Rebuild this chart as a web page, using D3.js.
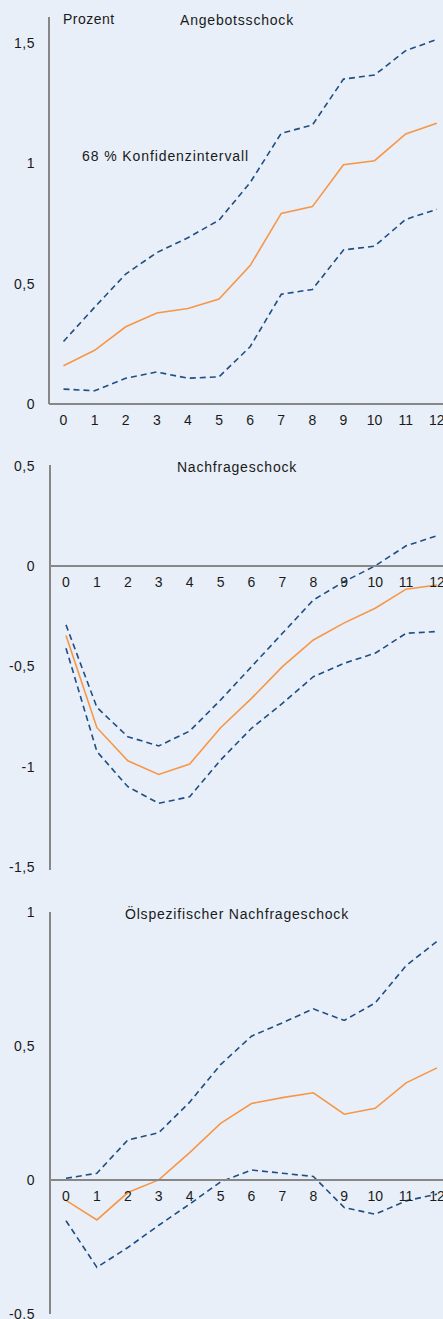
<!DOCTYPE html>
<html>
<head>
<meta charset="utf-8">
<script src="https://cdn.jsdelivr.net/npm/d3@7"></script>
<style>
  html, body { margin: 0; padding: 0; background: #e8eff8; }
  svg { display: block; }
  text { font-family: "Liberation Sans", Arial, sans-serif; fill: #1a1a1a; }
</style>
</head>
<body>
<div id="chartDiv"></div>
<script>
// horizon in quarters
var periods = [0, 1, 2, 3, 4, 5, 6, 7, 8, 9, 10, 11, 12];

// Angebotsschock
var supplyMid   = [0.159, 0.223, 0.321, 0.378, 0.397, 0.436, 0.575, 0.792, 0.820, 0.994, 1.011, 1.122, 1.167];
var supplyUpper = [0.260, 0.402, 0.540, 0.629, 0.691, 0.764, 0.920, 1.125, 1.159, 1.350, 1.367, 1.468, 1.515];
var supplyLower = [0.062, 0.055, 0.107, 0.133, 0.107, 0.113, 0.238, 0.456, 0.476, 0.640, 0.656, 0.767, 0.809];

// Nachfrageschock
var demandMid   = [-0.347, -0.806, -0.971, -1.039, -0.987, -0.806, -0.660, -0.502, -0.369, -0.284, -0.211, -0.116, -0.095];
var demandUpper = [-0.294, -0.705, -0.851, -0.897, -0.823, -0.668, -0.502, -0.336, -0.170, -0.078, 0.000, 0.100, 0.150];
var demandLower = [-0.410, -0.925, -1.100, -1.183, -1.150, -0.967, -0.809, -0.685, -0.552, -0.485, -0.435, -0.336, -0.327];

// Ölspezifischer Nachfrageschock
var oilMid   = [-0.076, -0.149, -0.047, 0.000, 0.102, 0.211, 0.285, 0.307, 0.325, 0.245, 0.267, 0.362, 0.418];
var oilUpper = [0.006, 0.025, 0.149, 0.176, 0.290, 0.430, 0.536, 0.586, 0.638, 0.595, 0.660, 0.799, 0.890];
var oilLower = [-0.152, -0.326, -0.252, -0.169, -0.090, -0.007, 0.037, 0.025, 0.013, -0.103, -0.128, -0.078, -0.053];

var yTicks1 = [0, 0.5, 1, 1.5];
var yTicks2 = [-1.5, -1, -0.5, 0, 0.5];
var yTicks3 = [-0.5, 0, 0.5, 1];

var svgWidth = 443;
var svgHeight = 1319;

var svg = d3.select('#chartDiv')
            .append('svg')
            .attr('width', svgWidth)
            .attr('height', svgHeight);

var fmt = function(v) { return String(v).replace('.', ','); };

function buildPanel(opts) {
    var x = d3.scaleLinear().domain([0, 12]).range([opts.x0, opts.x12]);
    var y = d3.scaleLinear().domain(opts.domain).range(opts.range);
    var g = svg.append('g');

    // y tick labels (no tick marks)
    g.selectAll('.ylab')
     .data(opts.yTicks)
     .enter()
     .append('text')
     .attr('x', 35)
     .attr('y', function(d) { return y(d) + 5; })
     .attr('text-anchor', 'end')
     .style('font-size', '14px')
     .style('letter-spacing', '0.5px')
     .text(fmt);

    // lines
    var line = d3.line()
                 .x(function(d, i) { return x(periods[i]); })
                 .y(function(d) { return y(d); });

    [opts.upper, opts.lower].forEach(function(s) {
        g.append('path')
         .attr('d', line(s))
         .attr('fill', 'none')
         .attr('stroke', '#1f4e85')
         .attr('stroke-width', 1.6)
         .attr('stroke-dasharray', '6,4');
    });

    g.append('path')
     .attr('d', line(opts.mid))
     .attr('fill', 'none')
     .attr('stroke', '#f79646')
     .attr('stroke-width', 1.6);

    // axes
    g.append('line')
     .attr('x1', opts.axisX).attr('x2', opts.axisX)
     .attr('y1', opts.axisTop).attr('y2', opts.axisBottom)
     .attr('stroke', '#878787').attr('stroke-width', 2);
    g.append('line')
     .attr('x1', opts.axisX).attr('x2', svgWidth)
     .attr('y1', y(0)).attr('y2', y(0))
     .attr('stroke', '#878787').attr('stroke-width', 2);

    // x tick labels
    g.selectAll('.xlab')
     .data(periods)
     .enter()
     .append('text')
     .attr('x', function(d) { return x(d); })
     .attr('y', y(0) + 21)
     .attr('text-anchor', 'middle')
     .style('font-size', '14px')
     .text(function(d) { return d; });

    // title
    g.append('text')
     .attr('x', opts.titleX)
     .attr('y', opts.titleY)
     .attr('text-anchor', 'middle')
     .style('font-size', '14px')
     .style('letter-spacing', '0.8px')
     .text(opts.title);
}

buildPanel({
    x0: 63.5, x12: 436.8,
    domain: [0, 1.5], range: [404, 43],
    yTicks: yTicks1,
    mid: supplyMid, upper: supplyUpper, lower: supplyLower,
    axisX: 49, axisTop: 17, axisBottom: 404,
    title: 'Angebotsschock', titleX: 237, titleY: 25
});

buildPanel({
    x0: 66, x12: 437,
    domain: [-1.5, 0.5], range: [867, 465.5],
    yTicks: yTicks2,
    mid: demandMid, upper: demandUpper, lower: demandLower,
    axisX: 50, axisTop: 465, axisBottom: 870,
    title: 'Nachfrageschock', titleX: 237, titleY: 472
});

buildPanel({
    x0: 66, x12: 437,
    domain: [-0.5, 1], range: [1314, 911.8],
    yTicks: yTicks3,
    mid: oilMid, upper: oilUpper, lower: oilLower,
    axisX: 50, axisTop: 912, axisBottom: 1314,
    title: 'Ölspezifischer Nachfrageschock', titleX: 237, titleY: 919
});

// unit and confidence band annotation
svg.append('text')
   .attr('x', 63).attr('y', 24)
   .style('font-size', '14px')
   .style('letter-spacing', '0.5px')
   .text('Prozent');

svg.append('text')
   .attr('x', 82).attr('y', 161)
   .style('font-size', '14px')
   .style('letter-spacing', '0.9px')
   .text('68 % Konfidenzintervall');
</script>
</body>
</html>
